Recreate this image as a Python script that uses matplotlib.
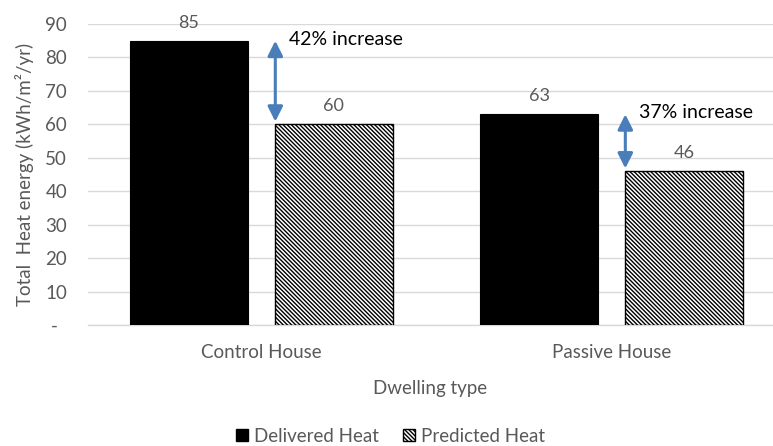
import matplotlib
matplotlib.use("Agg")
import matplotlib.pyplot as plt
from matplotlib.patches import Patch

# Heat energy by dwelling type
categories = ["Control House", "Passive House"]
delivered = [85, 63]
predicted = [60, 46]
increase_labels = ["42% increase", "37% increase"]
y_ticks = [0, 10, 20, 30, 40, 50, 60, 70, 80, 90]
y_tick_labels = ["-  ", "10", "20", "30", "40", "50", "60", "70", "80", "90"]

plt.rcParams["font.family"] = ["Lato", "DejaVu Sans"]
plt.rcParams["hatch.linewidth"] = 1.0
plt.rcParams["hatch.color"] = "black"

GRAY = "#595959"
GRID = "#D9D9D9"
ARROW = "#4A7EBB"
HATCH = "\\" * 8

fig = plt.figure(figsize=(7.73, 4.46), dpi=100)
ax = fig.add_axes([0.1138, 0.2713, 0.8862, 0.6749])

bar_w = 0.335
offset = 0.207
xs = list(range(len(categories)))

ax.bar([x - offset for x in xs], delivered, width=bar_w, color="black",
       edgecolor="black", linewidth=0.8, zorder=3)
ax.bar([x + offset for x in xs], predicted, width=bar_w, color="white",
       edgecolor="black", linewidth=1.0, hatch=HATCH, zorder=3)

for x, v in zip(xs, delivered):
    ax.text(x - offset, v + 3.0, f"{v}", ha="center", va="bottom",
            fontsize=13, color=GRAY)
for x, v in zip(xs, predicted):
    ax.text(x + offset, v + 3.0, f"{v}", ha="center", va="bottom",
            fontsize=13, color=GRAY)

# Double-headed arrows showing the gap between delivered and predicted heat
arrow_x = [x + offset - bar_w / 2 for x in xs]
for ax_x, d, p, lab in zip(arrow_x, delivered, predicted, increase_labels):
    ax.annotate("", xy=(ax_x, d), xytext=(ax_x, p + 0.8),
                arrowprops=dict(arrowstyle="<|-|>,head_length=0.9,head_width=0.45",
                                color=ARROW, lw=2.2, shrinkA=0, shrinkB=0),
                zorder=4)
    ax.text(ax_x + 0.04, d + 0.5, lab, ha="left", va="center",
            fontsize=14, color="black")

ax.set_xlim(-0.4957, 1.4614)
ax.set_ylim(0, 90)
ax.set_yticks(y_ticks)
ax.set_yticklabels(y_tick_labels)
ax.set_xticks(xs)
ax.set_xticklabels(categories)
ax.tick_params(axis="both", length=0, colors=GRAY, labelsize=13.5)
ax.tick_params(axis="x", pad=14)
ax.tick_params(axis="y", pad=15)
ax.yaxis.grid(True, color=GRID, linewidth=1.0, zorder=0)
ax.set_axisbelow(True)
for side in ["top", "right", "left"]:
    ax.spines[side].set_visible(False)
ax.spines["bottom"].set_color(GRID)
ax.spines["bottom"].set_linewidth(1.0)

ax.set_xlabel("Dwelling type", fontsize=13.5, color=GRAY, labelpad=13)
ax.set_ylabel("Total  Heat energy (kWh/m\u00b2/yr)", fontsize=13.5, color=GRAY,
              labelpad=8)

handles = [Patch(facecolor="black", edgecolor="black", label="Delivered Heat"),
           Patch(facecolor="white", edgecolor="black", hatch=HATCH,
                 label="Predicted Heat")]
leg = fig.legend(handles=handles, loc="center", bbox_to_anchor=(0.505, 0.022),
                 ncol=2, frameon=False, fontsize=13.5, handlelength=0.65,
                 handleheight=0.65, handletextpad=0.3, columnspacing=1.3)
for t in leg.get_texts():
    t.set_color(GRAY)

fig.savefig("out.png", dpi=100)
